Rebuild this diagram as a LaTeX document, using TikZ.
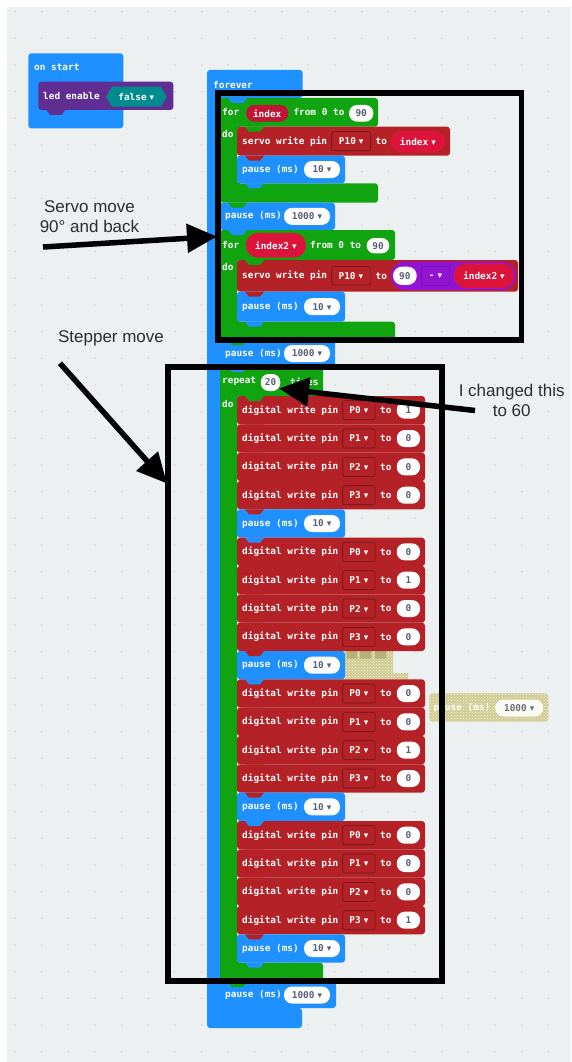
\documentclass[tikz,border=0pt]{standalone}
\usepackage{fontspec}
\setmainfont{Liberation Sans}
\newfontfamily\blkfont{DejaVu Sans Mono}
\newfontfamily\ddfont{DejaVu Sans}
\usetikzlibrary{arrows.meta,patterns}

\definecolor{canvas}{RGB}{236,240,241}
\definecolor{dotc}{RGB}{212,217,219}
\definecolor{mcblue}{RGB}{30,144,255}
\definecolor{mcgreen}{RGB}{16,165,16}
\definecolor{pinred}{RGB}{180,34,40}
\definecolor{varred}{RGB}{220,20,60}
\definecolor{loopvar}{RGB}{190,22,52}
\definecolor{mathpurple}{RGB}{145,20,210}
\definecolor{mathdark}{RGB}{118,10,180}
\definecolor{logic}{RGB}{0,140,142}
\definecolor{ledpurple}{RGB}{96,46,146}
\definecolor{pilltext}{RGB}{87,94,117}
\definecolor{ghostc}{RGB}{208,204,145}
\definecolor{ghostdark}{RGB}{180,176,120}
\definecolor{notetext}{RGB}{45,45,45}

% dropdown triangle
\newcommand\dd{\hspace{3pt}{\ddfont\fontsize{9}{9}\selectfont ▾}}

% digital write pin row: id, top, pin, value
\newcommand\dwrow[4]{%
  \fill[pinred, rounded corners=3pt] (237,#2) rectangle (425,#2+28.33);
  \node[lbl] (#1-t) at (242,#2+14.2) {digital write pin};
  \node[dropbox, minimum width=32.3pt, minimum height=19pt] (#1-p) at (358.9,#2+14.2) {P#3\dd};
  \node[lbl] (#1-to) at (380,#2+14.2) {to};
  \node[pill, minimum width=23.3pt] (#1-v) at (408.4,#2+14.2) {#4};
}
% pause block: id, x0, top, bottom, right, pill centre x, pill width, value
\newcommand\pauseblk[8]{%
  \fill[mcblue, rounded corners=3pt] (#2,#3) rectangle (#5,#4);
  \node[lbl] (#1-t) at (#2+5,{(#3+#4)/2}) {pause (ms)};
  \node[pill, minimum width=#7pt] (#1-v) at (#6,{(#3+#4)/2}) {#8};
}
% connector tab under a statement: colour, x0, y
\newcommand\tabat[3]{%
  \fill[#1] (#2+8,#3) -- (#2+12,#3+5) -- (#2+23,#3+5) -- (#2+27,#3) -- cycle;
}

\begin{document}
\begin{tikzpicture}[x=1pt,y=-1pt,
  blk/.style={font=\blkfont\bfseries\fontsize{9.4}{11}\selectfont},
  lbl/.style={blk, text=white, anchor=west, inner sep=0pt},
  pill/.style={blk, fill=white, text=pilltext, rounded corners=8pt, inner sep=0pt, minimum height=17pt},
  varpill/.style={blk, fill=varred, text=white, inner sep=0pt},
  dropbox/.style={blk, text=white, fill=pinred, draw=pinred!60!black, line width=0.6pt, rounded corners=2pt, inner sep=0pt},
  frame/.style={draw=black, line width=5.8pt},
  bigarrow/.style={draw=black, line width=5.5pt, -{Triangle[length=30pt,width=28pt]}},
  note/.style={text=notetext, font=\fontsize{17}{20}\selectfont, align=center, inner sep=0pt},
]
\useasboundingbox (0,0) rectangle (571,1062);
\fill[white] (0,0) rectangle (571,1062);
\fill[canvas] (7,7) rectangle (571,1062);
\foreach \i in {0,...,21}
  \foreach \j in {0,...,39}
    \fill[dotc] (15+\i*26.67, 11.5+\j*26.67) circle (1.1pt);

% ---- on start ----
\fill[mcblue, rounded corners=3pt] (28.3,53.3) rectangle (123.3,128.3);
\node[lbl] (onstart-t) at (34,67.7) {on start};
\fill[ledpurple, rounded corners=3pt] (38.3,81.7) rectangle (173.3,110);
\node[lbl] (led-t) at (43,96) {led enable};
\fill[logic] (106,96.7) -- (112,86.7) -- (160.7,86.7) -- (166.7,96.7) -- (160.7,106.7) -- (112,106.7) -- cycle;
\node[blk, text=white, inner sep=0pt] (false-t) at (136.3,96.7) {false\dd};

% ---- forever ----
\fill[mcblue, rounded corners=3pt] (207,70) -- (302.7,70) -- (302.7,98) -- (220,98) -- (220,1008)
  -- (302,1008) -- (302,1028) -- (207,1028) -- cycle;
\node[lbl] (forever-t) at (213,85) {forever};

% ---- for index ----
\fill[mcgreen, rounded corners=3pt] (220,98) -- (378,98) -- (378,126.7) -- (237,126.7) -- (237,183.3)
  -- (378,183.3) -- (378,202.7) -- (220,202.7) -- cycle;
\node[lbl] (for1-t) at (222,112.3) {for};
\node[varpill, fill=loopvar, rounded corners=8pt, minimum width=42.3pt, minimum height=16.7pt] (for1-var) at (267.2,113.3) {index};
\node[lbl] (for1-from) at (293.3,112.3) {from 0 to};
\node[pill, minimum width=24.3pt, minimum height=16.7pt] (for1-end) at (361.2,113.3) {90};
\node[lbl] (for1-do) at (222,134) {do};

\fill[pinred, rounded corners=3pt] (237,126.7) rectangle (450,155.7);
\node[lbl] (servo1-t) at (242,141.2) {servo write pin};
\node[dropbox, minimum width=39pt, minimum height=19pt] (servo1-p) at (351.2,141.2) {P10\dd};
\node[lbl] (servo1-to) at (375.5,141.2) {to};
\node[varpill, rounded corners=10.5pt, minimum width=54.3pt, minimum height=21.6pt] (servo1-v) at (417.9,141.5) {index\dd};

\pauseblk{p10a}{237}{155.7}{183.3}{345}{322}{36}{10\dd}
\pauseblk{p1000a}{220}{202.7}{230}{335}{307}{46}{1000\dd}

% ---- for index2 ----
\fill[mcgreen, rounded corners=3pt] (220,230) -- (395,230) -- (395,260) -- (237,260) -- (237,321.7)
  -- (395,321.7) -- (395,340) -- (220,340) -- cycle;
\node[lbl] (for2-t) at (222,245) {for};
\node[varpill, rounded corners=12pt, minimum width=60.3pt, minimum height=24.7pt] (for2-var) at (275.9,245.3) {index2\dd};
\node[lbl] (for2-from) at (310,245) {from 0 to};
\node[pill, minimum width=22.6pt, minimum height=15.3pt, rounded corners=7.5pt] (for2-end) at (378,245.7) {90};
\node[lbl] (for2-do) at (222,266.7) {do};

\fill[pinred, rounded corners=3pt] (237,260) rectangle (518,291.7);
\node[lbl] (servo2-t) at (242,275.8) {servo write pin};
\node[dropbox, minimum width=38.3pt, minimum height=18.3pt] (servo2-p) at (350.9,275.8) {P10\dd};
\node[lbl] (servo2-to) at (375.5,275.8) {to};
\fill[mathpurple, rounded corners=14pt] (390.7,261.7) rectangle (516,290);
\node[pill, minimum width=23.7pt, minimum height=18.3pt, rounded corners=9pt] (servo2-a) at (404.9,275.8) {90};
\node[blk, text=white, fill=mathpurple, draw=mathdark, line width=0.6pt, rounded corners=2pt, inner sep=0pt,
  minimum width=27.6pt, minimum height=19pt] (servo2-op) at (435.5,275.8) {-\dd};
\node[varpill, rounded corners=12pt, minimum width=60pt, minimum height=25pt] (servo2-b) at (484,275.8) {index2\dd};

\pauseblk{p10b}{237}{291.7}{321.7}{345}{322}{36}{10\dd}
\pauseblk{p1000b}{220}{340}{367}{335}{307}{46}{1000\dd}

% ---- repeat ----
\fill[mcgreen, rounded corners=3pt] (220,367) -- (323,367) -- (323,396) -- (237,396) -- (237,962.67)
  -- (323,962.67) -- (323,982) -- (220,982) -- cycle;
\node[lbl] (rep-t) at (222,381.5) {repeat};
\node[pill, minimum width=19.5pt] (rep-n) at (270.5,382.5) {20};
\node[lbl] (rep-times) at (290,381.5) {times};
\node[lbl] (rep-do) at (222,404) {do};

% disabled block peeking out behind the second pause
\fill[ghostc] (345,651) rectangle (393,673) (345,673) rectangle (408,679.4);
\fill[pattern=crosshatch dots, pattern color=white!75!ghostc] (345,651) rectangle (393,673) (345,673) rectangle (408,679.4);
\fill[ghostdark] (346.7,651) rectangle (357,658.5) (360,651) rectangle (371,658.5) (375,651) rectangle (386,658.5);

\dwrow{a0}{396}{0}{1}
\dwrow{a1}{424.33}{1}{0}
\dwrow{a2}{452.67}{2}{0}
\dwrow{a3}{481}{3}{0}
\pauseblk{pa}{237}{509.33}{537.67}{345}{322}{36}{10\dd}
\dwrow{b0}{537.67}{0}{0}
\dwrow{b1}{566}{1}{1}
\dwrow{b2}{594.33}{2}{0}
\dwrow{b3}{622.67}{3}{0}
\pauseblk{pb}{237}{651}{679.33}{345}{322}{36}{10\dd}
\dwrow{c0}{679.33}{0}{0}
\dwrow{c1}{707.67}{1}{0}
\dwrow{c2}{736}{2}{1}
\dwrow{c3}{764.33}{3}{0}
\pauseblk{pc}{237}{792.67}{821}{345}{322}{36}{10\dd}
\dwrow{d0}{821}{0}{0}
\dwrow{d1}{849.33}{1}{0}
\dwrow{d2}{877.67}{2}{0}
\dwrow{d3}{906}{3}{1}
\pauseblk{pd}{237}{934.33}{962.67}{345}{322}{36}{10\dd}

\pauseblk{p1000c}{220}{982}{1008}{336}{307}{46}{1000\dd}

% ---- connector tabs ----
\tabat{ledpurple}{38.3}{110}
\tabat{mcblue}{220}{98}
\tabat{mcgreen}{237}{126.7}
\tabat{pinred}{237}{155.7}
\tabat{mcblue}{237}{183.3}
\tabat{mcgreen}{220}{202.7}
\tabat{mcblue}{220}{230}
\tabat{mcgreen}{237}{260}
\tabat{pinred}{237}{291.7}
\tabat{mcblue}{237}{321.7}
\tabat{mcgreen}{220}{340}
\tabat{mcblue}{220}{367}
\tabat{mcgreen}{237}{396}
\foreach \y in {424.33,452.67,481,509.33,566,594.33,622.67,651,707.67,736,764.33,792.67,849.33,877.67,906,934.33}
  {\tabat{pinred}{237}{\y}}
\foreach \y in {537.67,679.33,821,962.67}
  {\tabat{mcblue}{237}{\y}}
\tabat{mcgreen}{220}{982}

% ---- disabled pause block ----
\fill[ghostc, rounded corners=3pt] (429.3,693.3) rectangle (548.3,721.7);
\fill[pattern=crosshatch dots, pattern color=white!75!ghostc, rounded corners=3pt] (429.3,693.3) rectangle (548.3,721.7);
\node[lbl, text=white!95!ghostc] (ghost-t) at (433.5,707.5) {pause (ms)};
\node[pill, fill=white!90!ghostc, text=pilltext!85!ghostc, minimum width=48pt] (ghost-v) at (519.2,708) {1000\dd};

% ---- marking frames ----
\draw[frame] (218,93.3) rectangle (521.5,339.7);
\draw[frame] (168,367) rectangle (442,981.3);

% ---- notes and arrows ----
\node[note] (servo-note) at (89.5,216.7) {Servo move\\90° and back};
\node[note] (stepper-note) at (111,338.3) {Stepper move};
\node[note] (change-note) at (511.7,400) {I changed this\\to 60};
\coordinate (a1s) at (43,247);
\coordinate (a1e) at (217,236.5);
\coordinate (a2s) at (60,363.3);
\coordinate (a2e) at (167,483.5);
\coordinate (a3s) at (475,410.5);
\coordinate (a3e) at (279,388.5);
\draw[bigarrow] (a1s) -- (a1e);
\draw[bigarrow] (a2s) -- (a2e);
\draw[bigarrow] (a3s) -- (a3e);
\end{tikzpicture}
\end{document}
